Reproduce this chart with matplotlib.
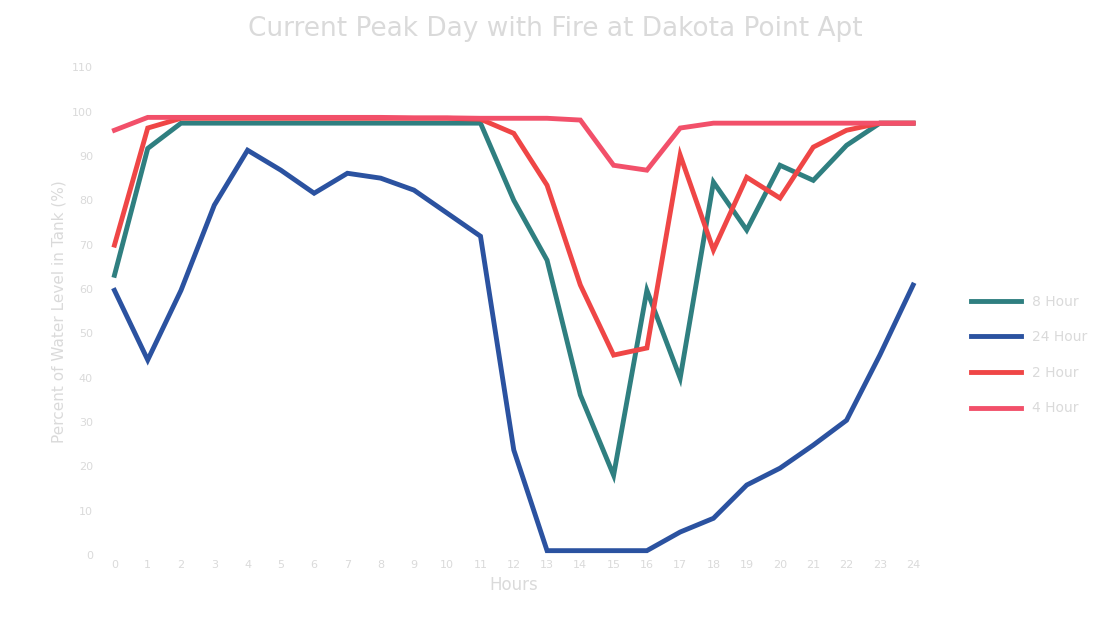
import matplotlib.pyplot as plt
import numpy as np

# hours of the peak day
hours = list(range(0, 25))
hour_labels = [str(h) for h in hours]

# tank level, percent
s8 = [63.1, 91.7, 97.4, 97.4, 97.4, 97.4, 97.4, 97.4, 97.4, 97.4, 97.4, 97.4, 80.0,
      66.5, 36.1, 18.0, 59.7, 39.9, 84.1, 73.3, 87.9, 84.5, 92.4, 97.4, 97.4]
s24 = [59.7, 44.0, 59.7, 78.9, 91.3, 86.8, 81.6, 86.1, 85.0, 82.3, 77.1, 71.9, 23.7,
       1.0, 1.0, 1.0, 1.0, 5.2, 8.3, 15.8, 19.6, 24.8, 30.4, 45.1, 60.9]
s2 = [69.9, 96.3, 98.5, 98.5, 98.5, 98.5, 98.5, 98.5, 98.5, 98.5, 98.5, 98.3, 95.1,
      83.4, 60.9, 45.1, 46.7, 90.2, 68.8, 85.2, 80.5, 92.0, 95.8, 97.4, 97.4]
s4 = [95.8, 98.7, 98.7, 98.7, 98.7, 98.7, 98.7, 98.7, 98.7, 98.6, 98.6, 98.5, 98.5,
      98.5, 98.1, 87.9, 86.8, 96.3, 97.4, 97.4, 97.4, 97.4, 97.4, 97.4, 97.4]

names = ['8 Hour', '24 Hour', '2 Hour', '4 Hour']
colors = ['#2f7f80', '#2b52a0', '#ef4646', '#f2506a']
txt = '#dadada'

fig = plt.figure(figsize=(10.99, 6.23), dpi=100)
ax = fig.add_axes([0.089, 0.109, 0.757, 0.783])

for ys, nm, c in zip([s8, s24, s2, s4], names, colors):
    ax.plot(hours, ys, color=c, lw=3.5, label=nm, solid_joinstyle='miter')

ax.set_xlim(-0.5, 24.5)
ax.set_ylim(0, 110)
ax.set_xticks(hours)
ax.set_xticklabels(hour_labels)
ax.set_yticks(np.arange(0, 111, 10))
ax.tick_params(colors=txt, labelcolor=txt, length=0, labelsize=8)
for sp in ax.spines.values():
    sp.set_visible(False)

ax.set_xlabel('Hours', color=txt, fontsize=12)
ax.set_ylabel('Percent of Water Level in Tank (%)', color=txt, fontsize=11)
fig.suptitle('Current Peak Day with Fire at Dakota Point Apt', color=txt,
             fontsize=19, y=0.975, x=0.505)

fig.legend(loc='center left', bbox_to_anchor=(0.872, 0.43), frameon=False,
           labelcolor=txt, fontsize=10, handlelength=3.6, labelspacing=1.55)

fig.savefig('out.png', dpi=100)
